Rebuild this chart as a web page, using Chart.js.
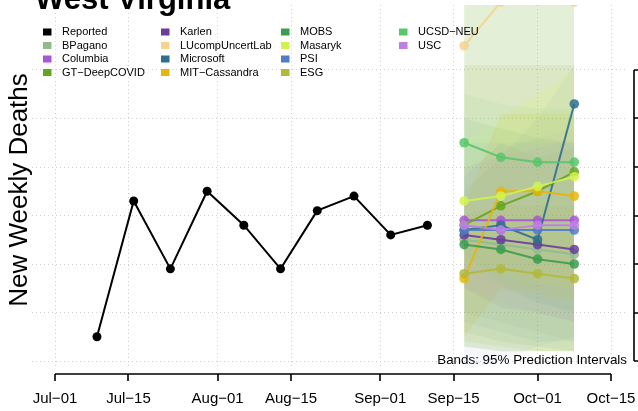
<!DOCTYPE html>
<html>
<head>
<meta charset="utf-8">
<script src="https://cdn.jsdelivr.net/npm/chart.js@4"></script>
<style>
  body { margin: 0; background: #fff; overflow: hidden; }
</style>
</head>
<body>
<canvas id="chart" width="638" height="411"></canvas>
<script>
// x tick dates and labels
const tickDates = ["2020-07-01", "2020-07-15", "2020-08-01", "2020-08-15", "2020-09-01", "2020-09-15", "2020-10-01", "2020-10-15"];
const tickLabels = ["Jul\u221201", "Jul\u221215", "Aug\u221201", "Aug\u221215", "Sep\u221201", "Sep\u221215", "Oct\u221201", "Oct\u221215"];
const yTicks = [0, 10, 20, 30, 40, 50, 60];

// reported weekly deaths
const reportedDates = ["2020-07-09", "2020-07-16", "2020-07-23", "2020-07-30", "2020-08-06", "2020-08-13", "2020-08-20", "2020-08-27", "2020-09-03", "2020-09-10"];
const reported = [5, 33, 19, 35, 28, 19, 31, 34, 26, 28];

// forecasts
const forecastDates = ["2020-09-17", "2020-09-24", "2020-10-01", "2020-10-08"];
const bpagano = [25, 24, 23, 22];
const columbia = [29, 29, 29, 29];
const gtDeepCovid = [28, 32, 35, 39];
const karlen = [26, 25, 24, 23];
const lucomp = [65, 74, 85, 74];
const microsoft = [27, 28, 25, 53];
const mitCassandra = [17, 35, 35, 34];
const mobs = [24, 23, 21, 20];
const masaryk = [33, 34, 36, 38];
const psi = [27, 27, 27, 27];
const esg = [18, 19, 18, 17];
const ucsdNeu = [45, 42, 41, 41];
const usc = [28, 27, 28, 28];

// 95% prediction intervals (lower / upper)
const bpaganoLo = [10, 8, 6, 4], bpaganoHi = [61, 61, 61, 61];
const columbiaLo = [18, 15, 12, 10], columbiaHi = [40, 43, 46, 48];
const gtDeepCovidLo = [3, 2, 2, 2], gtDeepCovidHi = [90, 90, 90, 90];
const karlenLo = [15, 11, 10, 8], karlenHi = [38, 45, 42, 44];
const lucompLo = [45, 50, 50, 50], lucompHi = [61, 61, 61, 61];
const microsoftLo = [8, 6, 4, 4], microsoftHi = [35, 42, 50, 61];
const mitCassandraLo = [5, 15, 14, 12], mitCassandraHi = [32, 51, 51, 51];
const mobsLo = [6, 4, 3, 2], mobsHi = [50, 48, 46, 45];
const masarykLo = [20, 18, 16, 15], masarykHi = [45, 50, 55, 60];
const psiLo = [-2, 0, 3, 5], psiHi = [45, 45, 45, 45];
const esgLo = [4, 3, 2, 2], esgHi = [30, 32, 32, 32];
const ucsdNeuLo = [22, 16, 12, 10], ucsdNeuHi = [55, 53, 52, 52];
const uscLo = [15, 12, 10, 8], uscHi = [40, 42, 44, 46];

const models = [
  { name: "BPagano", color: "#8fbc8f", band: 0.1, y: bpagano, lo: bpaganoLo, hi: bpaganoHi },
  { name: "Columbia", color: "#a855d6", band: 0.06, y: columbia, lo: columbiaLo, hi: columbiaHi },
  { name: "GT\u2212DeepCOVID", color: "#66a61e", band: 0.18, y: gtDeepCovid, lo: gtDeepCovidLo, hi: gtDeepCovidHi },
  { name: "Karlen", color: "#6a3d9a", band: 0.06, y: karlen, lo: karlenLo, hi: karlenHi },
  { name: "LUcompUncertLab", color: "#f8d38d", band: 0.1, y: lucomp, lo: lucompLo, hi: lucompHi },
  { name: "Microsoft", color: "#2e6f8e", band: 0.06, y: microsoft, lo: microsoftLo, hi: microsoftHi },
  { name: "MIT\u2212Cassandra", color: "#e6b60b", band: 0.12, y: mitCassandra, lo: mitCassandraLo, hi: mitCassandraHi },
  { name: "MOBS", color: "#3c9c4f", band: 0.08, y: mobs, lo: mobsLo, hi: mobsHi },
  { name: "Masaryk", color: "#d2f34f", band: 0.14, y: masaryk, lo: masarykLo, hi: masarykHi },
  { name: "PSI", color: "#4f7cc2", band: 0.06, y: psi, lo: psiLo, hi: psiHi },
  { name: "ESG", color: "#b3b83a", band: 0.13, y: esg, lo: esgLo, hi: esgHi },
  { name: "UCSD\u2212NEU", color: "#58c76a", band: 0.08, y: ucsdNeu, lo: ucsdNeuLo, hi: ucsdNeuHi },
  { name: "USC", color: "#bf80e3", band: 0.06, y: usc, lo: uscLo, hi: uscHi }
];

const FONT = '"Liberation Sans", Arial, sans-serif';
const day = d => (Date.parse(d) - Date.parse("2020-07-01")) / 864e5;
const pts = (dates, vals) => dates.map((d, i) => ({ x: day(d), y: vals[i] }));

function alpha(hex, a) {
  const n = parseInt(hex.slice(1), 16);
  return `rgba(${n >> 16},${(n >> 8) & 255},${n & 255},${a})`;
}

const datasets = [];
datasets.push({
  label: "Reported",
  data: pts(reportedDates, reported),
  borderColor: "#000",
  backgroundColor: "#000",
  borderWidth: 2,
  pointRadius: 4.5,
  pointBorderWidth: 0,
  order: 0
});
models.forEach((m, i) => {
  datasets.push({
    label: m.name,
    data: pts(forecastDates, m.y),
    borderColor: alpha(m.color, 0.9),
    backgroundColor: alpha(m.color, 0.85),
    borderWidth: 2,
    pointRadius: 4.8,
    pointBorderWidth: 0,
    order: 100 - i
  });
});
models.forEach((m, i) => {
  datasets.push({
    label: m.name + " hi",
    data: pts(forecastDates, m.hi),
    borderWidth: 0,
    pointRadius: 0,
    backgroundColor: alpha(m.color, m.band),
    fill: "+1",
    order: 300 - i
  });
  datasets.push({
    label: m.name + " lo",
    data: pts(forecastDates, m.lo),
    borderWidth: 0,
    pointRadius: 0,
    fill: false,
    order: 300 - i
  });
});

// legend layout like the R figure: 4 columns, filled down
const legendCols = [
  ["Reported", "BPagano", "Columbia", "GT\u2212DeepCOVID"],
  ["Karlen", "LUcompUncertLab", "Microsoft", "MIT\u2212Cassandra"],
  ["MOBS", "Masaryk", "PSI", "ESG"],
  ["UCSD\u2212NEU", "USC"]
];

const decorations = {
  id: "decorations",
  afterDraw(chart) {
    const ctx = chart.ctx;
    const xs = chart.scales.x, ys = chart.scales.y;
    ctx.save();
    ctx.fillStyle = "#000";
    ctx.strokeStyle = "#000";

    // title
    ctx.font = "bold 31px " + FONT;
    ctx.textAlign = "left";
    ctx.textBaseline = "alphabetic";
    ctx.fillText("West Virginia", 35, 9);

    // y title
    ctx.save();
    ctx.translate(27, 190);
    ctx.rotate(-Math.PI / 2);
    ctx.font = "26px " + FONT;
    ctx.textAlign = "center";
    ctx.fillText("New Weekly Deaths", 0, 0);
    ctx.restore();

    // legend
    const colSq = [43, 161, 281, 399];
    const colTx = [62, 180, 300, 418];
    const rowY = [32, 45.5, 59, 72.5];
    ctx.font = "11px " + FONT;
    ctx.textBaseline = "middle";
    legendCols.forEach((col, c) => {
      col.forEach((name, r) => {
        const m = models.find(mm => mm.name === name);
        ctx.fillStyle = m ? m.color : "#000";
        ctx.fillRect(colSq[c], rowY[r] - 3.5, 8.5, 7);
        ctx.fillStyle = "#000";
        ctx.fillText(name, colTx[c], rowY[r]);
      });
    });

    // bottom axis
    ctx.lineWidth = 1.6;
    const x0 = xs.getPixelForValue(day(tickDates[0]));
    const x1 = xs.getPixelForValue(day(tickDates[tickDates.length - 1]));
    const ay = 374;
    ctx.beginPath();
    ctx.moveTo(x0, ay);
    ctx.lineTo(x1, ay);
    tickDates.forEach(d => {
      const px = Math.round(xs.getPixelForValue(day(d)));
      ctx.moveTo(px, ay);
      ctx.lineTo(px, ay + 7);
    });
    ctx.stroke();
    ctx.font = "15px " + FONT;
    ctx.textAlign = "center";
    ctx.textBaseline = "alphabetic";
    tickDates.forEach((d, i) => {
      ctx.fillText(tickLabels[i], xs.getPixelForValue(day(d)), 403);
    });

    // right axis (labels fall outside the picture)
    const ax = 634;
    ctx.beginPath();
    ctx.moveTo(ax, ys.getPixelForValue(yTicks[yTicks.length - 1]));
    ctx.lineTo(ax, ys.getPixelForValue(yTicks[0]));
    yTicks.forEach(v => {
      const py = Math.round(ys.getPixelForValue(v));
      ctx.moveTo(ax, py);
      ctx.lineTo(ax + 7, py);
    });
    ctx.stroke();

    // note
    ctx.font = "13.4px " + FONT;
    ctx.textAlign = "right";
    ctx.fillText("Bands: 95% Prediction Intervals", 627, 364);
    ctx.restore();
  }
};

const gridOpts = { color: "#cfcfcf", lineWidth: 1, drawTicks: false };

new Chart(document.getElementById("chart"), {
  type: "line",
  data: { datasets },
  options: {
    responsive: false,
    animation: false,
    layout: { padding: { left: 32, right: 11, top: 5, bottom: 43 } },
    plugins: { legend: { display: false }, tooltip: { enabled: false } },
    scales: {
      x: {
        type: "linear",
        min: -4.385,
        max: 109.05,
        grid: gridOpts,
        border: { display: false, dash: [1, 3] },
        ticks: { display: false },
        afterBuildTicks: s => { s.ticks = tickDates.map(d => ({ value: day(d) })); }
      },
      y: {
        type: "linear",
        min: -1.44,
        max: 73.4,
        grid: gridOpts,
        border: { display: false, dash: [1, 3] },
        ticks: { display: false },
        afterBuildTicks: s => { s.ticks = yTicks.map(v => ({ value: v })); }
      }
    }
  },
  plugins: [decorations]
});
</script>
</body>
</html>
